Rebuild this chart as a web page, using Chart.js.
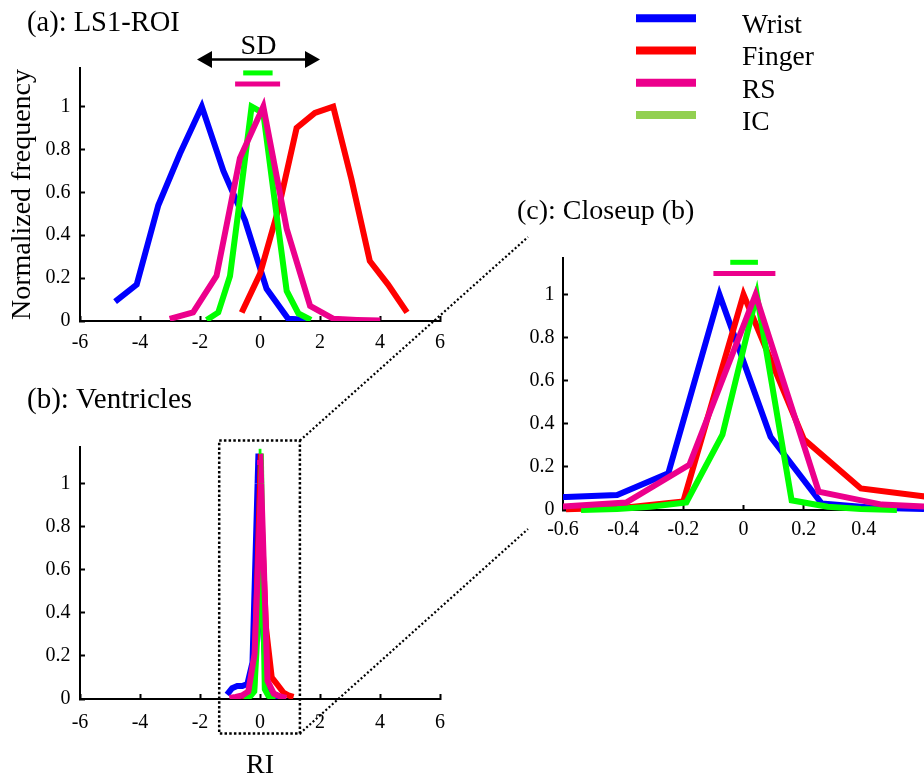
<!DOCTYPE html>
<html>
<head>
<meta charset="utf-8">
<script src="https://cdn.jsdelivr.net/npm/chart.js@4.4.0/dist/chart.umd.min.js"></script>
<style>
  html, body { margin: 0; padding: 0; background: #fff; overflow: hidden; width: 924px; height: 776px; }
  canvas { position: absolute; }
</style>
</head>
<body>
<canvas id="chart-a" width="462" height="370" style="left:0;top:0"></canvas>
<canvas id="chart-b" width="462" height="412" style="left:0;top:370px"></canvas>
<canvas id="chart-c" width="419" height="380" style="left:505px;top:190px"></canvas>
<canvas id="overlay" width="924" height="776" style="left:0;top:0;pointer-events:none"></canvas>
<script>
const FONT = "'Liberation Serif', 'Times New Roman', Times, serif";

// series
const seriesNames = ['Wrist', 'Finger', 'RS', 'IC'];
const lineColors = ['#0000ff', '#ff0000', '#ec008c', '#00ff00'];
const legendColors = ['#0000ff', '#ff0000', '#ec008c', '#92d050'];
const drawOrder = [3, 2, 0, 1]; // lower = drawn on top (RS over IC)

// (a) LS1-ROI
const wristAX = [-4.83, -4.11, -3.39, -2.67, -1.94, -1.22, -0.5, 0.22, 0.94, 1.67];
const wristAY = [0.09, 0.17, 0.54, 0.78, 1.0, 0.70, 0.47, 0.15, 0.01, 0.005];
const fingerAX = [-0.61, 0, 0.61, 1.22, 1.83, 2.44, 3.05, 3.66, 4.27, 4.9];
const fingerAY = [0.04, 0.22, 0.52, 0.90, 0.97, 1.0, 0.66, 0.28, 0.17, 0.04];
const rsAX = [-3.01, -2.23, -1.45, -0.67, 0.11, 0.89, 1.67, 2.45, 3.23, 4.01];
const rsAY = [0.01, 0.04, 0.21, 0.76, 1.0, 0.43, 0.07, 0.01, 0.005, 0.002];
const icAX = [-1.78, -1.39, -1.0, -0.64, -0.28, 0.11, 0.5, 0.89, 1.28, 1.7];
const icAY = [0.005, 0.04, 0.21, 0.6, 1.0, 0.97, 0.55, 0.14, 0.035, 0.005];
// SD bars (a)
const sdIcAX = [-0.56, 0.42], sdIcAY = [1.157, 1.157];
const sdRsAX = [-0.83, 0.67], sdRsAY = [1.105, 1.105];
const sdArrowX = [-2.1, 2.0], sdArrowY = 1.22;

// (b) Ventricles, (c) closeup of (b)
const wristBX = [-1.1, -0.93, -0.76, -0.59, -0.42, -0.25, -0.08, 0.09, 0.26, 0.43, 0.6];
const wristBY = [0.02, 0.05, 0.06, 0.06, 0.07, 0.17, 1.0, 0.34, 0.03, 0.01, 0.005];
const fingerBX = [-0.59, -0.39, -0.2, 0, 0.2, 0.39, 0.59, 0.78, 0.98, 1.12];
const fingerBY = [0.003, 0.012, 0.04, 1.0, 0.33, 0.10, 0.065, 0.03, 0.015, 0.01];
const rsBX = [-1.02, -0.81, -0.6, -0.39, -0.18, 0.04, 0.25, 0.46, 0.67, 0.88];
const rsBY = [0.005, 0.01, 0.016, 0.035, 0.21, 1.0, 0.085, 0.025, 0.012, 0.005];
const icBX = [-0.54, -0.42, -0.31, -0.19, -0.07, 0.044, 0.16, 0.28, 0.39, 0.51];
const icBY = [0.0, 0.005, 0.015, 0.035, 0.35, 1.0, 0.045, 0.015, 0.005, 0.0];
const sdIcBX = [-0.044, 0.048], sdIcBY = [1.15, 1.15];
const sdRsBX = [-0.1, 0.106], sdRsBY = [1.098, 1.098];
const zoomBoxX = [-1.36, 1.33], zoomBoxY = [-0.16, 1.2];

// ticks
const wideXTicks = [-6, -4, -2, 0, 2, 4, 6];
const closeXTicks = [-0.6, -0.4, -0.2, 0, 0.2, 0.4];
const yTicks = [0, 0.2, 0.4, 0.6, 0.8, 1];

function pts(xs, ys) { return xs.map((x, i) => ({ x, y: ys[i] })); }

function line(label, color, data, order, width) {
  return { label, data, borderColor: color, backgroundColor: color, borderWidth: width || 6,
           pointRadius: 0, tension: 0, fill: false, order };
}

function seriesSets(sets, sdIc, sdRs) {
  const ds = sets.map((s, i) => line(seriesNames[i], lineColors[i], pts(s[0], s[1]), drawOrder[i]));
  ds.push(line('IC SD', lineColors[3], pts(sdIc[0], sdIc[1]), -1, 5));
  ds.push(line('RS SD', lineColors[2], pts(sdRs[0], sdRs[1]), -1, 5));
  return ds;
}

function axis(min, max, ticks, pad, size, isX, title) {
  return {
    type: 'linear', min, max,
    afterBuildTicks: s => { s.ticks = ticks.map(v => ({ value: v })); },
    afterFit: s => { if (isX) s.height = size; else s.width = size; },
    ticks: { font: { family: FONT, size: 20 }, color: '#000', padding: pad, maxRotation: 0,
             autoSkip: false, callback: v => String(v) },
    grid: { drawOnChartArea: false, drawTicks: true, tickLength: -5, tickWidth: 2, tickColor: '#000' },
    border: { display: true, color: '#000', width: 2 },
    title: title || { display: false }
  };
}

// very sharp peaks: miter clipped at the limit instead of bevelled
const miterClip = {
  id: 'miterClip',
  afterDatasetDraw(chart, args) {
    const ds = chart.data.datasets[args.index];
    const h = ds.borderWidth / 2, L = 10 * h;
    const el = args.meta.data, area = chart.chartArea, ctx = chart.ctx;
    ctx.save();
    ctx.fillStyle = ds.borderColor;
    for (let i = 1; i < el.length - 1; i++) {
      const p0 = el[i - 1], p = el[i], p1 = el[i + 1];
      if (p.x < area.left || p.x > area.right || p.y < area.top || p.y > area.bottom) continue;
      let d1x = p.x - p0.x, d1y = p.y - p0.y;
      let d2x = p1.x - p.x, d2y = p1.y - p.y;
      const l1 = Math.hypot(d1x, d1y), l2 = Math.hypot(d2x, d2y);
      if (!l1 || !l2) continue;
      d1x /= l1; d1y /= l1; d2x /= l2; d2y /= l2;
      const cosT = -(d1x * d2x + d1y * d2y);
      const s = Math.sqrt(Math.max((1 - cosT) / 2, 0));
      if (s === 0 || 1 / s <= 10) continue;
      let bx = d1x - d2x, by = d1y - d2y;
      const bl = Math.hypot(bx, by); bx /= bl; by /= bl;
      let n1x = -d1y, n1y = d1x; if (n1x * bx + n1y * by < 0) { n1x = -n1x; n1y = -n1y; }
      let n2x = -d2y, n2y = d2x; if (n2x * bx + n2y * by < 0) { n2x = -n2x; n2y = -n2y; }
      const ax = p.x + n1x * h, ay = p.y + n1y * h;
      const cx = p.x + n2x * h, cy = p.y + n2y * h;
      const t1 = (L - h * (n1x * bx + n1y * by)) / (d1x * bx + d1y * by);
      const t2 = (L - h * (n2x * bx + n2y * by)) / -(d2x * bx + d2y * by);
      ctx.beginPath();
      ctx.moveTo(p.x, p.y);
      ctx.lineTo(ax, ay);
      ctx.lineTo(ax + d1x * t1, ay + d1y * t1);
      ctx.lineTo(cx - d2x * t2, cy - d2y * t2);
      ctx.lineTo(cx, cy);
      ctx.closePath();
      ctx.fill();
    }
    ctx.restore();
  }
};

function textPlugin(items, extra) {
  return {
    id: 'panelText',
    afterDraw(chart) {
      const ctx = chart.ctx;
      ctx.save();
      ctx.fillStyle = '#000';
      ctx.textBaseline = 'alphabetic';
      items.forEach(t => {
        ctx.font = t.size + 'px ' + FONT;
        ctx.textAlign = t.align || 'left';
        ctx.fillText(t.text, t.x, t.y);
      });
      if (extra) extra(chart, ctx);
      ctx.restore();
    }
  };
}

function makeChart(id, cfg) {
  return new Chart(document.getElementById(id), {
    type: 'line',
    data: { datasets: cfg.datasets },
    options: {
      responsive: false, animation: false, devicePixelRatio: 1,
      clip: cfg.clip,
      layout: { padding: cfg.pad },
      plugins: { legend: { display: false }, tooltip: { enabled: false } },
      scales: { x: cfg.x, y: cfg.y }
    },
    plugins: [miterClip, cfg.plugin]
  });
}

// SD arrow for (a)
function drawSdArrow(chart, ctx) {
  const x1 = chart.scales.x.getPixelForValue(sdArrowX[0]);
  const x2 = chart.scales.x.getPixelForValue(sdArrowX[1]);
  const y = chart.scales.y.getPixelForValue(sdArrowY);
  ctx.strokeStyle = '#000';
  ctx.lineWidth = 2.5;
  ctx.beginPath(); ctx.moveTo(x1 + 10, y); ctx.lineTo(x2 - 10, y); ctx.stroke();
  ctx.beginPath();
  ctx.moveTo(x1, y); ctx.lineTo(x1 + 15, y - 8.5); ctx.lineTo(x1 + 15, y + 8.5); ctx.closePath();
  ctx.moveTo(x2, y); ctx.lineTo(x2 - 15, y - 8.5); ctx.lineTo(x2 - 15, y + 8.5); ctx.closePath();
  ctx.fill();
  ctx.font = '28px ' + FONT;
  ctx.textAlign = 'center';
  ctx.fillText('SD', (x1 + x2) / 2, y - 5);
}

// dotted zoom box for (b)
function drawZoomBox(chart, ctx) {
  const xs = chart.scales.x, ys = chart.scales.y;
  const l = xs.getPixelForValue(zoomBoxX[0]), r = xs.getPixelForValue(zoomBoxX[1]);
  const t = ys.getPixelForValue(zoomBoxY[1]), b = ys.getPixelForValue(zoomBoxY[0]);
  ctx.strokeStyle = '#000';
  ctx.lineWidth = 2.5;
  ctx.setLineDash([2.5, 2.2]);
  ctx.strokeRect(l, t, r - l, b - t);
}

const chartA = makeChart('chart-a', {
  datasets: seriesSets([[wristAX, wristAY], [fingerAX, fingerAY], [rsAX, rsAY], [icAX, icAY]],
                       [sdIcAX, sdIcAY], [sdRsAX, sdRsAY]),
  pad: { top: 68, left: 0, right: 22, bottom: 0 },
  x: axis(-6, 6, wideXTicks, 15, 49, true),
  y: axis(0, 1.18, yTicks, 14.5, 80, false,
          { display: true, text: 'Normalized frequency', color: '#000',
            font: { family: FONT, size: 28 }, padding: { top: 6, bottom: 0 } }),
  plugin: textPlugin([{ text: '(a): LS1-ROI', x: 27, y: 31, size: 28.5 }], drawSdArrow)
});

const ventricleSets = [[wristBX, wristBY], [fingerBX, fingerBY], [rsBX, rsBY], [icBX, icBY]];

const chartB = makeChart('chart-b', {
  datasets: seriesSets(ventricleSets, [sdIcBX, sdIcBY], [sdRsBX, sdRsBY]),
  pad: { top: 77, left: 0, right: 22, bottom: 0 },
  x: axis(-6, 6, wideXTicks, 16.7, 83, true,
          { display: true, text: 'RI', color: '#000', font: { family: FONT, size: 28 },
            padding: { top: 0, bottom: 0 } }),
  y: axis(0, 1.17, yTicks, 14.5, 80, false),
  plugin: textPlugin([{ text: '(b): Ventricles', x: 27, y: 38, size: 29 }], drawZoomBox)
});

const chartC = makeChart('chart-c', {
  datasets: seriesSets(ventricleSets, [sdIcBX, sdIcBY], [sdRsBX, sdRsBY]),
  clip: { left: 0, top: 10, right: 0, bottom: 4 },
  pad: { top: 68, left: 0, right: 0, bottom: 0 },
  x: axis(-0.6, 0.6, closeXTicks, 12.4, 60, true),
  y: axis(0, 1.17, yTicks, 13.5, 58, false),
  plugin: textPlugin([{ text: '(c): Closeup (b)', x: 12, y: 29, size: 28 }])
});

// overlay: connectors from zoom box to (c), and legend
(function drawOverlay() {
  const ov = document.getElementById('overlay');
  const ctx = ov.getContext('2d');
  const cb = document.getElementById('chart-b'), cc = document.getElementById('chart-c');
  const bx = cb.offsetLeft + chartB.scales.x.getPixelForValue(zoomBoxX[1]);
  const byTop = cb.offsetTop + chartB.scales.y.getPixelForValue(zoomBoxY[1]);
  const byBot = cb.offsetTop + chartB.scales.y.getPixelForValue(zoomBoxY[0]);
  const area = chartC.chartArea;
  const ex = cc.offsetLeft + area.left - 35;
  const eyTop = cc.offsetTop + area.top - 21;
  const eyBot = cc.offsetTop + area.bottom + 19;
  ctx.strokeStyle = '#000';
  ctx.lineWidth = 2.2;
  ctx.setLineDash([2, 2.3]);
  ctx.beginPath();
  ctx.moveTo(bx, byTop); ctx.lineTo(ex, eyTop);
  ctx.moveTo(bx, byBot); ctx.lineTo(ex, eyBot);
  ctx.stroke();
  ctx.setLineDash([]);

  ctx.font = '27.5px ' + FONT;
  ctx.fillStyle = '#000';
  ctx.textBaseline = 'alphabetic';
  seriesNames.forEach((name, i) => {
    const y = 18.3 + i * 32.25;
    ctx.strokeStyle = legendColors[i];
    ctx.lineWidth = 8;
    ctx.beginPath(); ctx.moveTo(636, y); ctx.lineTo(696, y); ctx.stroke();
    ctx.fillText(name, 742, y + 14.7);
  });
})();
</script>
</body>
</html>
